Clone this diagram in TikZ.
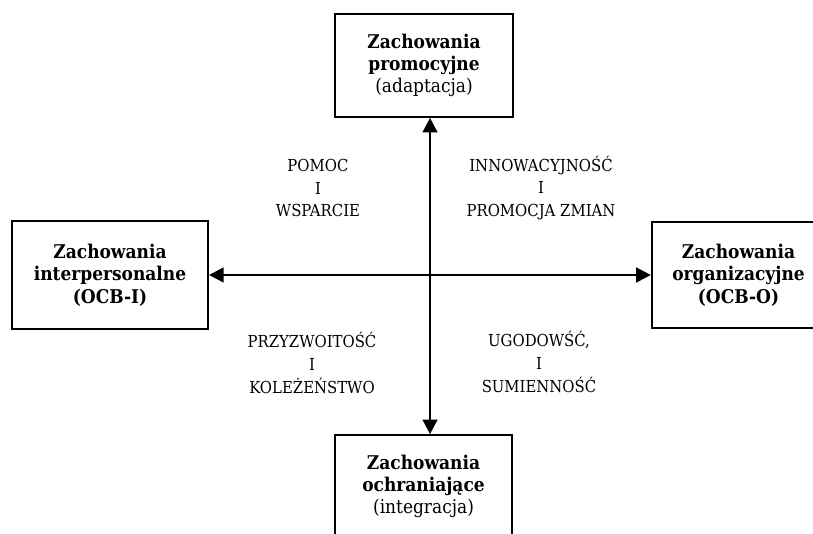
\documentclass[tikz,border=0pt]{standalone}
\usepackage{fontspec}
\setmainfont{DejaVu Serif Condensed}
\usetikzlibrary{arrows.meta}
\tikzset{
  box/.style={draw, line width=1.5pt, align=center, inner sep=0pt,
    font=\fontsize{14.2}{16.8}\selectfont},
  axislabel/.style={align=center, font=\fontsize{12.4}{17}\selectfont},
  axis/.style={line width=1.9pt, {Triangle[length=11pt,width=11pt]}-{Triangle[length=11pt,width=11pt]}}
}
\begin{document}
\begin{tikzpicture}[x=0.75pt,y=-0.75pt]
  \useasboundingbox (0,0) rectangle (813,534);
  % boxes
  \node[box, minimum width=133.5pt, minimum height=77pt] (promo) at (424,65.5)
    {\textbf{Zachowania}\\\textbf{promocyjne}\\(adaptacja)};
  \node[box, minimum width=147pt, minimum height=81.5pt] (inter) at (110,275)
    {\textbf{Zachowania}\\\textbf{interpersonalne}\\\textbf{(OCB-I)}};
  \node[box, minimum width=130pt, minimum height=80pt] (organ) at (738.5,275)
    {\textbf{Zachowania}\\\textbf{organizacyjne}\\\textbf{(OCB-O)}};
  \node[box, minimum width=133pt, minimum height=77pt] (ochr) at (423.5,486.5)
    {\textbf{Zachowania}\\\textbf{ochraniające}\\(integracja)};
  \coordinate (c) at (430,275);
  % axes
  \draw[axis] (c |- ochr.north) -- (c |- promo.south);
  \draw[axis] (inter) -- (organ);
  % quadrant labels
  \node[axislabel] (pomoc) at (318,188) {POMOC\\I\\WSPARCIE};
  \node[axislabel] (innow) at (541,188) {INNOWACYJNOŚĆ\\I\\PROMOCJA ZMIAN};
  \node[axislabel] (przyz) at (312,363) {PRZYZWOITOŚĆ\\I\\KOLEŻEŃSTWO};
  \node[axislabel] (ugod) at (539,362) {UGODOWŚĆ,\\I\\SUMIENNOŚĆ};
\end{tikzpicture}
\end{document}
